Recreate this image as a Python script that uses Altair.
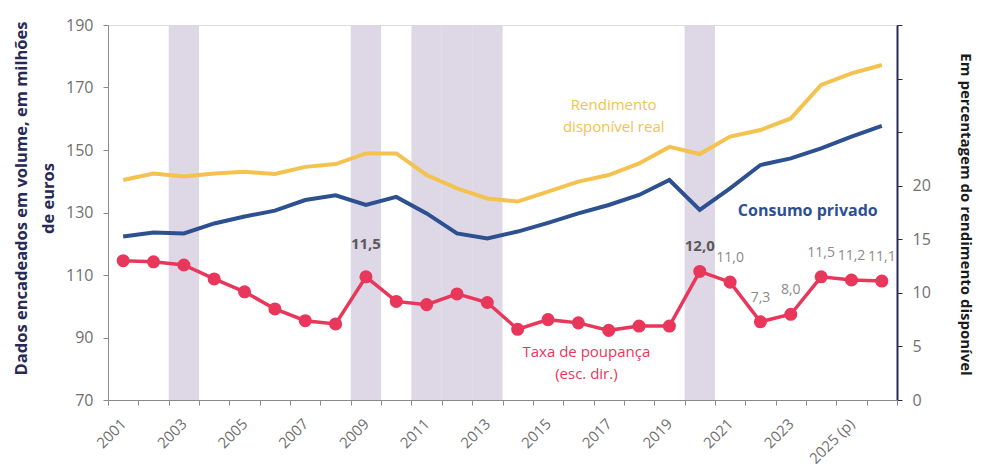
import altair as alt
import pandas as pd

years = list(range(2001, 2027))
consumo = [122.3, 123.6, 123.3, 126.5, 128.7, 130.6, 134.0, 135.5, 132.4, 135.0,
           129.7, 123.3, 121.7, 123.9, 126.7, 129.7, 132.4, 135.6, 140.4, 130.8,
           137.7, 145.2, 147.3, 150.5, 154.3, 157.7]
rendimento = [140.4, 142.5, 141.5, 142.5, 143.0, 142.3, 144.6, 145.5, 148.9, 148.9,
              142.0, 137.7, 134.5, 133.5, 136.7, 139.9, 142.0, 145.7, 151.0, 148.7,
              154.3, 156.4, 160.1, 170.8, 174.5, 177.2]
poupanca = [13.0, 12.9, 12.6, 11.3, 10.1, 8.5, 7.4, 7.1, 11.5, 9.2,
            8.9, 9.9, 9.1, 6.6, 7.5, 7.2, 6.5, 6.9, 6.9, 12.0,
            11.0, 7.3, 8.0, 11.5, 11.2, 11.1]
recession_years = [2003, 2009, 2011, 2012, 2013, 2020]
label_bold_years_a = [2009]
label_bold_years_b = [2020]
label_regular_years = [2021, 2022, 2023, 2024, 2025, 2026]

YELLOW = "#f4c24f"
BLUE = "#2d5091"
RED = "#e8375b"
SHADE = "#dcd5e5"
GRAY = "#707070"
NAVY = "#262a55"
FONT = "Open Sans"

W, H = 789, 375

left_title = ["Dados encadeados em volume, em milhões", "de euros"]
right_title = "Em percentagem do rendimento disponível"

df_lines = pd.DataFrame({
    "year": years * 2,
    "value": consumo + rendimento,
    "serie": ["Consumo privado"] * len(years) + ["Rendimento disponível real"] * len(years),
})
df_red = pd.DataFrame({"year": years, "taxa": poupanca})
df_red["label"] = [f"{v:.1f}".replace(".", ",") for v in poupanca]
df_bold_a = df_red[df_red["year"].isin(label_bold_years_a)]
df_bold_b = df_red[df_red["year"].isin(label_bold_years_b)]
df_reg = df_red[df_red["year"].isin(label_regular_years)]
df_shade = pd.DataFrame({"year": recession_years})

xscale = alt.Scale(type="band", domain=years, paddingInner=0, paddingOuter=0)
x_axis = alt.Axis(
    tickBand="extent", labelAngle=-45, labelAlign="right", labelBaseline="middle",
    labelExpr="datum.value == 2025 ? '2025 (p)' : (datum.value % 2 == 1 ? '' + datum.value : '')",
    labelOverlap=False, labelPadding=16, tickSize=5, title=None,
    domainColor="#8a8a8a", tickColor="#8a8a8a", labelColor=GRAY,
    labelFontSize=15, labelFont=FONT,
)


def X():
    return alt.X("year:O", scale=xscale, axis=x_axis, bandPosition=0.5)


left_axis = alt.Axis(
    orient="left", values=[70, 90, 110, 130, 150, 170, 190], grid=False,
    domainColor="#8a8a8a", tickColor="#8a8a8a", labelColor=GRAY, labelFontSize=16,
    labelFont=FONT, labelPadding=10, tickSize=5,
    titleFont=FONT, titleFontSize=16.5, titleFontWeight="bold", titleColor=NAVY,
    titleAngle=-90, titleX=-87, titleY=173, titleAlign="center", titleBaseline="middle",
    titleLineHeight=27,
)
right_axis = alt.Axis(
    orient="right", values=[0, 5, 10, 15, 20, 25, 30, 35], grid=False,
    labelExpr="datum.value <= 20 ? datum.label : ''",
    domainColor=NAVY, domainWidth=2, tickColor=NAVY, labelColor=GRAY, labelFontSize=16,
    labelFont=FONT, labelPadding=10, tickSize=5,
    titleFont=FONT, titleFontSize=15, titleFontWeight="bold", titleColor="#1a1a1a",
    titleAngle=90, titleX=68, titleY=189, titleAlign="center", titleBaseline="middle",
)
yleft = alt.Scale(domain=[70, 190], nice=False, zero=False)
yright = alt.Scale(domain=[0, 35], nice=False)

shade = alt.Chart(df_shade).mark_rect(color=SHADE, opacity=0.95).encode(
    x=alt.X("year:O", scale=xscale, axis=x_axis),
    y=alt.value(0), y2=alt.value(H),
)

lines = alt.Chart(df_lines).mark_line(strokeWidth=4).encode(
    x=X(),
    y=alt.Y("value:Q", scale=yleft, axis=left_axis, title=left_title),
    color=alt.Color("serie:N", scale=alt.Scale(domain=["Consumo privado", "Rendimento disponível real"],
                                               range=[BLUE, YELLOW]), legend=None),
)

ann_left = pd.DataFrame({
    "year": [2017, 2023],
    "value": [164.3, 130.6],
    "text": ["Rendimento\ndisponível real", "Consumo privado"],
})
ann_rend = alt.Chart(ann_left.iloc[[0]]).mark_text(
    font=FONT, fontSize=15, lineBreak="\n", lineHeight=22, dx=5, color=YELLOW,
).encode(x=X(), y=alt.Y("value:Q", scale=yleft, axis=left_axis, title=left_title), text="text:N")
ann_cons = alt.Chart(ann_left.iloc[[1]]).mark_text(
    font=FONT, fontSize=16, fontWeight="bold", dx=17, color=BLUE,
).encode(x=X(), y=alt.Y("value:Q", scale=yleft, axis=left_axis, title=left_title), text="text:N")

left_layer = alt.layer(lines, ann_rend, ann_cons)

red_line = alt.Chart(df_red).mark_line(
    strokeWidth=3.5, color=RED,
    point=alt.OverlayMarkDef(filled=True, size=170, color=RED, opacity=1),
).encode(
    x=X(),
    y=alt.Y("taxa:Q", scale=yright, axis=right_axis, title=right_title),
)
ytaxa = alt.Y("taxa:Q", scale=yright, axis=right_axis, title=right_title)
lbl_bold_a = alt.Chart(df_bold_a).mark_text(
    font=FONT, fontSize=15, fontWeight="bold", color="#5a5a5a", dy=-33,
).encode(x=X(), y=ytaxa, text="label:N")
lbl_bold_b = alt.Chart(df_bold_b).mark_text(
    font=FONT, fontSize=15, fontWeight="bold", color="#5a5a5a", dy=-25,
).encode(x=X(), y=ytaxa, text="label:N")
lbl_reg = alt.Chart(df_reg).mark_text(
    font=FONT, fontSize=14, color="#8a8a8a", dy=-24,
).encode(x=X(), y=ytaxa, text="label:N")

ann_red_df = pd.DataFrame({"year": [2016], "taxa": [4.45], "text": ["Taxa de poupança\n(esc. dir.)"]})
ann_red = alt.Chart(ann_red_df).mark_text(
    font=FONT, fontSize=15, lineBreak="\n", lineHeight=22, dx=8, color=RED,
).encode(x=X(), y=ytaxa, text="text:N")

right_layer = alt.layer(red_line, lbl_bold_a, lbl_bold_b, lbl_reg, ann_red)

chart = alt.layer(shade, left_layer, right_layer).resolve_scale(y="independent").properties(
    width=W, height=H,
    autosize=alt.AutoSizeParams(type="none"),
    padding={"left": 100, "top": 17, "right": 82, "bottom": 70},
).configure_view(stroke=None).configure(background="white")

chart.save("out.html", embed_options={"renderer": "svg", "actions": False})
